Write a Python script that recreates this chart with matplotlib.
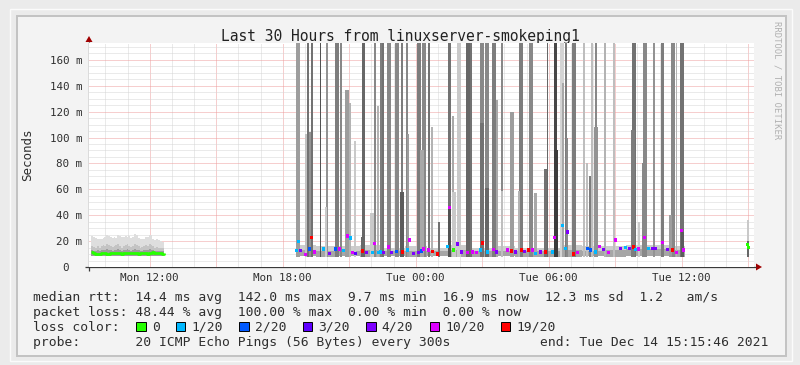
import numpy as np
import matplotlib
matplotlib.use("Agg")
import matplotlib.pyplot as plt
from matplotlib.patches import Rectangle, Polygon
from matplotlib.transforms import ScaledTranslation

MONO = "DejaVu Sans Mono"

# ------------------------------------------------------------------ data
title = "Last 30 Hours from linuxserver-smokeping1"
y_label = "Seconds"
watermark = "RRDTOOL / TOBI OETIKER"

window_start_h = 9.263          # hours since Mon 00:00
window_end_h = 39.263           # Tue 15:15:46
y_max_ms = 173

x_label_hours = [12, 18, 24, 30, 36]
x_labels = ["Mon 12:00", "Mon 18:00", "Tue 00:00", "Tue 06:00", "Tue 12:00"]
y_tick_values = [0, 20, 40, 60, 80, 100, 120, 140, 160]
y_tick_labels = ["0", "20 m", "40 m", "60 m", "80 m", "100 m", "120 m", "140 m", "160 m"]

# early block (Mon 09:20 .. 12:40, 5 minute steps)
early_start_h = 9 + 20 / 60
early_step_h = 5 / 60
early_median = [11.6, 11.2, 10.6, 10.2, 10.0, 10.4, 10.6, 10.9, 10.7, 10.3,
                10.1, 10.5, 10.8, 11.0, 10.9, 10.6, 10.6, 10.4, 10.7, 11.0,
                10.9, 10.5, 10.6, 10.8, 10.9, 10.5, 10.3, 10.6, 10.8, 11.0,
                10.7, 10.4, 10.6, 10.9, 11.2, 10.8, 10.5, 10.7, 10.6, 10.4, 10.7]
early_lo = [8.8, 8.5, 8.6, 8.4, 8.5, 8.7, 8.5, 8.6, 8.4, 8.5,
            8.8, 8.6, 8.5, 8.4, 8.6, 8.7, 8.5, 8.6, 8.5, 8.4,
            8.6, 8.5, 8.7, 8.5, 8.6, 8.4, 8.5, 8.6, 8.5, 8.7,
            8.5, 8.4, 8.6, 8.5, 8.6, 8.5, 8.4, 8.6, 8.5, 8.6, 8.5]
early_core = [13.5, 13, 12.5, 12.5, 13, 12.5, 13, 13.5, 13, 14,
              13.5, 13, 12.5, 13, 13.5, 14, 13, 12.5, 13, 13.5,
              14, 13, 12.5, 13, 14, 13.5, 13, 12.5, 12.5, 13,
              13.5, 13, 14, 13.5, 13, 12.5, 12.5, 12.5, 12, 12.5, 12.5]
early_mid = [17, 16, 15.5, 15, 16, 15, 16, 17, 16, 18,
             17, 16, 15.5, 16, 17, 18, 16, 15, 16, 17,
             18, 16, 15.5, 16, 18, 17, 16, 15, 15.5, 16,
             17, 16, 18, 17, 16, 15, 15.5, 15, 14.5, 15, 15]
early_hi = [24.5, 24.0, 23.0, 22.5, 21.5, 21.5, 22.0, 22.5, 23.0, 24.5,
            24.0, 23.0, 22.5, 23.0, 22.5, 24.5, 24.0, 23.0, 23.5, 24.0,
            23.5, 24.0, 22.5, 23.0, 25.5, 25.0, 22.5, 22.0, 21.5, 22.0,
            23.5, 23.0, 25.0, 24.5, 22.0, 21.0, 21.5, 20.5, 20.0, 19.5, 20.0]

# base smoke band of the busy period (Mon 18:35 .. Tue 12:09)
band_t = [18.58, 19.5, 20.5, 21.5, 22.5, 23.5, 24.5, 25.5, 26.5, 27.5,
          28.5, 29.5, 30.5, 31.5, 32.5, 33.5, 34.5, 35.5, 36.15]
band_lo = [8.5, 8.0, 8.2, 8.0, 8.3, 8.0, 8.2, 7.8, 8.0, 8.2,
           8.0, 8.1, 7.9, 8.2, 8.0, 8.4, 8.2, 8.0, 8.0]
band_core = [13, 12.5, 12.5, 13, 12, 12.5, 12, 13, 12, 12.5,
             12, 12, 13, 12.5, 13, 14, 14, 13, 13]
band_hi = [17, 16, 16, 17, 15, 16, 15, 17, 15, 16,
           15, 15, 17, 16, 16, 17, 17, 16, 16]

# smoke spikes: time (h), highest ping (ms), smoke density, width in 5-min steps
spike_floor_ms = 7.5
spike_t = [18.68, 19.04, 19.15, 19.24, 19.33, 19.71, 19.94, 20.01, 20.44, 20.64,
           20.91, 21.04, 21.25, 21.56, 21.65, 22.04, 22.15, 22.29, 22.42, 22.53,
           22.80, 23.16, 23.37, 23.39, 23.59, 23.66, 24.16, 24.29, 24.38, 24.61,
           24.74, 25.04, 25.53, 25.53, 25.67, 25.74, 25.96, 26.35, 26.48, 27.00,
           27.00, 27.22, 27.22, 27.54, 27.65, 27.88, 27.90, 28.35, 28.67, 28.74,
           29.19, 29.41, 29.86, 29.95, 30.31, 30.33, 30.59, 30.63, 30.77, 30.81,
           31.15, 31.58, 31.74, 31.87, 31.94, 32.12, 32.12, 32.53, 32.93, 33.79,
           33.86, 34.08, 34.26, 34.35, 34.74, 35.14, 35.50, 35.62, 35.77, 36.02,
           36.04, 39.00, 39.00]
spike_top = [180, 103, 180, 104, 180, 180, 46, 180, 180, 180,
             137, 127, 97, 23, 180, 42, 180, 124, 180, 180,
             180, 180, 180, 58, 180, 103, 180, 90, 180, 180,
             108, 35, 180, 46, 117, 58, 180, 180, 180, 180,
             111, 180, 61, 180, 129, 180, 59, 120, 59, 180,
             180, 57, 76, 180, 180, 90, 180, 142, 180, 100,
             180, 180, 80, 70, 180, 180, 108, 180, 180, 106,
             180, 35, 80, 180, 180, 180, 40, 180, 180, 180,
             27, 36, 20]
spike_density = [0.45, 0.28, 0.65, 0.50, 0.65, 0.80, 0.25, 0.50, 0.60, 0.55,
                 0.45, 0.35, 0.25, 0.70, 0.70, 0.25, 0.55, 0.35, 0.60, 0.65,
                 0.55, 0.55, 0.60, 0.75, 0.55, 0.45, 0.60, 0.40, 0.55, 0.65,
                 0.35, 0.65, 0.65, 0.80, 0.40, 0.25, 0.25, 0.70, 0.65, 0.55,
                 0.65, 0.55, 0.70, 0.60, 0.40, 0.55, 0.30, 0.45, 0.35, 0.60,
                 0.55, 0.40, 0.65, 0.70, 0.85, 0.90, 0.20, 0.40, 0.60, 0.55,
                 0.60, 0.30, 0.30, 0.60, 0.30, 0.55, 0.50, 0.35, 0.30, 0.60,
                 0.65, 0.25, 0.55, 0.55, 0.50, 0.60, 0.45, 0.55, 0.35, 0.65,
                 0.75, 0.25, 0.70]
spike_steps = [2, 1, 1, 1, 1, 1, 1, 1, 2, 1,
               2, 1, 1, 1, 2, 2, 1, 1, 1, 1,
               2, 2, 1, 2, 1, 1, 2, 2, 2, 1,
               1, 1, 2, 2, 1, 2, 2, 2, 1, 2,
               2, 2, 2, 2, 1, 1, 1, 2, 1, 2,
               2, 2, 2, 1, 2, 2, 2, 1, 1, 1,
               2, 1, 1, 1, 1, 1, 2, 1, 1, 2,
               2, 1, 1, 2, 1, 2, 2, 2, 1, 2,
               2, 1, 1]

# median rtt samples of the busy period with their loss class (lost pings of 20)
med_t = [18.63, 18.72, 18.81, 19.04, 19.22, 19.31, 19.44, 19.85, 20.12, 20.39,
         20.57, 20.75, 20.93, 21.07, 21.16, 21.29, 21.61, 21.79, 22.06, 22.15,
         22.33, 22.42, 22.56, 22.78, 22.92, 23.14, 23.41, 23.64, 23.73, 23.91,
         24.13, 24.27, 24.36, 24.59, 24.77, 24.99, 25.44, 25.53, 25.71, 25.89,
         26.07, 26.35, 26.57, 26.75, 26.93, 27.02, 27.25, 27.52, 27.65, 28.15,
         28.33, 28.51, 28.78, 28.92, 29.10, 29.28, 29.41, 29.64, 29.86, 30.18,
         30.27, 30.63, 30.77, 30.86, 31.13, 31.31, 31.76, 31.89, 32.12, 32.30,
         32.48, 32.71, 33.02, 33.25, 33.47, 33.65, 33.83, 33.92, 34.06, 34.33,
         34.51, 34.69, 34.83, 35.14, 35.37, 35.59, 35.77, 36.00, 36.09, 38.98,
         39.02]
med_ms = [12.6, 19.5, 12.6, 9.8, 14, 23, 11.6, 14, 10.5, 14,
          14, 12.6, 24, 22.5, 11, 10.5, 12.5, 11, 11, 18,
          11, 11.5, 11, 15.5, 11, 12, 11.5, 13, 21, 10.5,
          11, 12.5, 14, 13, 12, 10, 16, 46, 13, 17.7,
          11.5, 11, 11.5, 11, 13, 18.5, 11.5, 13.5, 11.5, 13,
          12.5, 11.5, 13, 12, 13, 13, 10.5, 11.5, 11.5, 11.5,
          23, 32, 14.5, 27, 10, 11, 14.5, 13, 11.5, 16,
          13.5, 11, 21, 14.5, 15, 14.5, 15.5, 13.5, 14, 23,
          14.5, 14.5, 14.5, 19, 13.5, 13, 11, 28, 13, 17.5,
          15]
med_loss = [1, 1, 4, 10, 2, 19, 10, 1, 4, 2,
            10, 1, 10, 1, 10, 3, 19, 4, 1, 10,
            1, 1, 4, 10, 4, 2, 19, 1, 10, 4,
            4, 2, 10, 10, 19, 19, 1, 10, 0, 4,
            4, 10, 10, 10, 1, 19, 1, 10, 4, 10,
            19, 4, 19, 4, 19, 10, 1, 4, 19, 1,
            10, 1, 1, 4, 19, 10, 2, 2, 1, 10,
            4, 10, 10, 4, 1, 4, 19, 1, 10, 10,
            1, 4, 4, 10, 4, 19, 10, 10, 10, 0,
            0]

loss_levels = [0, 1, 2, 3, 4, 10, 19]
loss_labels = ["0", "1/20", "2/20", "3/20", "4/20", "10/20", "19/20"]
loss_colors = ["#26ff00", "#00b8ff", "#0059ff", "#5e00ff", "#7e00ff", "#dd00ff", "#ff0000"]

legend_line1 = "median rtt:  14.4 ms avg  142.0 ms max  9.7 ms min  16.9 ms now  12.3 ms sd  1.2   am/s"
legend_line2 = "packet loss: 48.44 % avg  100.00 % max  0.00 % min  0.00 % now"
legend_line3 = "loss color:"
legend_line4 = "probe:       20 ICMP Echo Pings (56 Bytes) every 300s"
legend_end = "end: Tue Dec 14 15:15:46 2021"

# ------------------------------------------------------------------ figure
W, H = 800, 365
fig = plt.figure(figsize=(W / 100, H / 100), dpi=100)
fig.patch.set_facecolor("#ebebeb")

bg = fig.add_axes([0, 0, 1, 1])
bg.set_xlim(0, W)
bg.set_ylim(H, 0)
bg.axis("off")
bg.add_patch(Rectangle((9.5, 8.5), 782, 352, facecolor="none", edgecolor="#fbfbfb", lw=1.0))
bg.add_patch(Rectangle((16.5, 15.5), 769, 340, facecolor="#f3f3f3", edgecolor="#c2c2c2", lw=1.4))

# plot area
ax_l, ax_r, ax_t, ax_b = 89, 754, 43, 267
ax = fig.add_axes([ax_l / W, 1 - ax_b / H, (ax_r - ax_l) / W, (ax_b - ax_t) / H])
ax.set_xlim(window_start_h, window_end_h)
ax.set_ylim(0, y_max_ms)
ax.set_facecolor("white")
for s in ax.spines.values():
    s.set_visible(False)

dot = (0, (1, 1))
for h in range(int(np.ceil(window_start_h)), int(window_end_h) + 1):
    major = (h % 3 == 0)
    ax.axvline(h, color="#ee9e9e" if major else "#d6d6d6", lw=0.72, ls=dot, zorder=0)
for v in range(5, y_max_ms, 5):
    major = (v % 20 == 0)
    ax.axhline(v, color="#ee9e9e" if major else "#d6d6d6", lw=0.72, ls=dot, zorder=0)

# early smoke + median
early_t = early_start_h + early_step_h * np.arange(len(early_median))
ax.fill_between(early_t, early_lo, early_hi, step="mid", color="#dedede", lw=0, zorder=1)
ax.fill_between(early_t, early_lo, early_mid, step="mid", color="#c4c4c4", lw=0, zorder=1)
ax.fill_between(early_t, early_lo, early_core, step="mid", color="#9c9c9c", lw=0, zorder=1)
ax.plot(early_t, early_median, drawstyle="steps-mid", color=loss_colors[0], lw=2.0, zorder=4,
        solid_capstyle="butt")

# busy period base band
ax.fill_between(band_t, band_lo, band_hi, step="post", color="#cdcdcd", lw=0, zorder=1)
ax.fill_between(band_t, band_lo, band_core, step="post", color="#a6a6a6", lw=0, zorder=1)

# spikes: tallest first so that shorter, denser smoke sits on top
order = np.argsort(-np.asarray(spike_top), kind="stable")
for i in order:
    g = 1 - 0.85 * spike_density[i]
    ax.bar(spike_t[i], spike_top[i] - spike_floor_ms, bottom=spike_floor_ms,
           width=spike_steps[i] * 5 / 60, color=(g, g, g), lw=0, zorder=2)

# medians
cmap = dict(zip(loss_levels, loss_colors))
ax.scatter(med_t, med_ms, marker="s", s=6, c=[cmap[l] for l in med_loss], linewidths=0, zorder=5)

# ticks
txt_col = "#2e2e2e"
ax.set_xticks(x_label_hours)
ax.set_xticklabels(x_labels, fontfamily=MONO, fontsize=7.8, color=txt_col)
ax.tick_params(axis="x", length=0, pad=4.5)
ax.set_yticks(y_tick_values)
ax.set_yticklabels(y_tick_labels, fontfamily=MONO, fontsize=7.8, color=txt_col)
ax.tick_params(axis="y", length=0, pad=5)
char_w_in = 0.602 * 7.8 / 72
for lab, txt in zip(ax.get_yticklabels(), y_tick_labels):
    if txt == "0":
        lab.set_transform(lab.get_transform() + ScaledTranslation(-2 * char_w_in, 0, fig.dpi_scale_trans))

# axes lines with arrows
axis_col = "#3a3a3a"
arrow_col = "#a00000"
bg.plot([ax_l - 4, ax_r + 2], [ax_b, ax_b], color=axis_col, lw=0.9, solid_capstyle="butt")
bg.plot([ax_l, ax_l], [ax_b + 4, ax_t - 1], color=axis_col, lw=0.9, solid_capstyle="butt")
bg.add_patch(Polygon([[ax_r + 2, ax_b - 3.5], [ax_r + 2, ax_b + 3.5], [ax_r + 8, ax_b]],
                     closed=True, color=arrow_col, lw=0))
bg.add_patch(Polygon([[ax_l - 3.5, ax_t - 1], [ax_l + 3.5, ax_t - 1], [ax_l, ax_t - 7]],
                     closed=True, color=arrow_col, lw=0))

# texts
bg.text(400, 41.5, title, ha="center", va="baseline", fontsize=10.5, fontfamily=MONO, color="#222222")
bg.text(28, 155, y_label, rotation=90, ha="center", va="center", fontsize=9.0, fontfamily=MONO,
        color=txt_col)
bg.text(777, 80, watermark, rotation=270, ha="center", va="center", fontsize=6.4, fontfamily=MONO,
        color="#b0b0b0")

leg_fs = 9.4
leg_x = 33.3
bg.text(leg_x, 300.7, legend_line1, va="baseline", fontsize=leg_fs, fontfamily=MONO, color=txt_col)
bg.text(leg_x, 315.8, legend_line2, va="baseline", fontsize=leg_fs, fontfamily=MONO, color=txt_col)
bg.text(leg_x, 330.8, legend_line3, va="baseline", fontsize=leg_fs, fontfamily=MONO, color=txt_col)
bg.text(leg_x, 345.8, legend_line4, va="baseline", fontsize=leg_fs, fontfamily=MONO, color=txt_col)
bg.text(768.5, 345.8, legend_end, ha="right", va="baseline", fontsize=leg_fs, fontfamily=MONO, color=txt_col)

cw = 0.602 * leg_fs * 100 / 72
bx = 136.0
for lab, col in zip(loss_labels, loss_colors):
    bg.add_patch(Rectangle((bx, 321.5), 9.5, 9.5, facecolor=col, edgecolor="#000000", lw=0.7))
    bg.text(bx + 15.7, 330.8, lab, va="baseline", fontsize=leg_fs, fontfamily=MONO, color=txt_col)
    bx = bx + 15.7 + len(lab) * cw + 16.3

fig.savefig("out.png", dpi=100, facecolor=fig.get_facecolor())
